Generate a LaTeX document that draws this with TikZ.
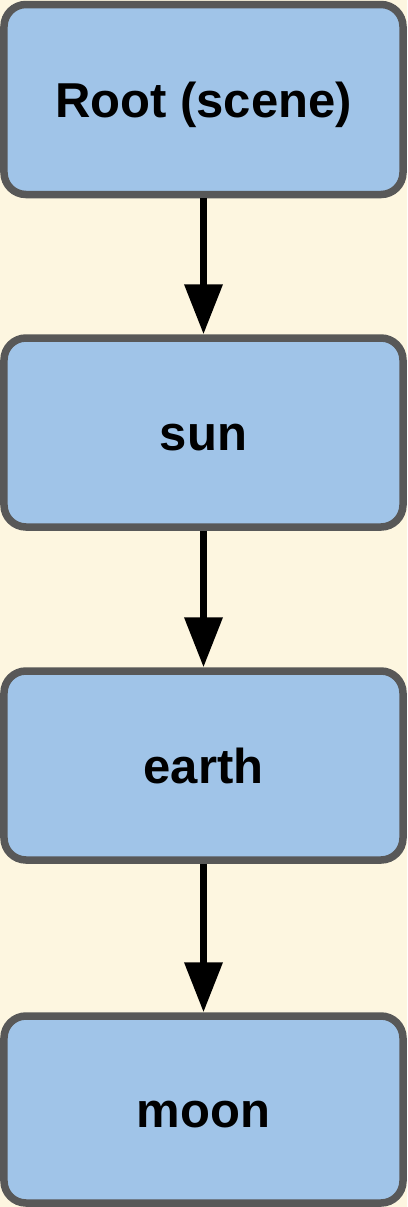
\documentclass[tikz,border=0pt]{standalone}
\usepackage{fontspec}
\setmainfont{Liberation Sans}
\usetikzlibrary{arrows.meta}
\definecolor{bgcol}{RGB}{253,246,224}
\definecolor{boxfill}{RGB}{160,196,232}
\definecolor{boxline}{RGB}{88,88,88}
\tikzset{
  treebox/.style={draw=boxline, fill=boxfill, line width=7.5bp, rounded corners=22bp,
    minimum width=399bp, inner sep=0pt, text height=35bp, text depth=0pt,
    font=\fontsize{49bp}{58bp}\selectfont\bfseries},
  link/.style={line width=7bp, -{Triangle[width=37bp,length=50bp]}}
}
\begin{document}
\begin{tikzpicture}[x=1bp,y=-1bp]
\fill[bgcol] (0,0) rectangle (407,1207);
\useasboundingbox (0,0) rectangle (407,1207);
\node[treebox, minimum height=190bp] (root) at (203.5,99.5) {Root (scene)};
\node[treebox, minimum height=189bp] (sun) at (203.5,432.5) {sun};
\node[treebox, minimum height=189bp] (earth) at (203.5,765.5) {earth};
\node[treebox, minimum height=187bp] (moon) at (203.5,1109.5) {moon};
\draw[link] (root.south) -- (sun.north);
\draw[link] (sun.south) -- (earth.north);
\draw[link] (earth.south) -- (moon.north);
\end{tikzpicture}
\end{document}
